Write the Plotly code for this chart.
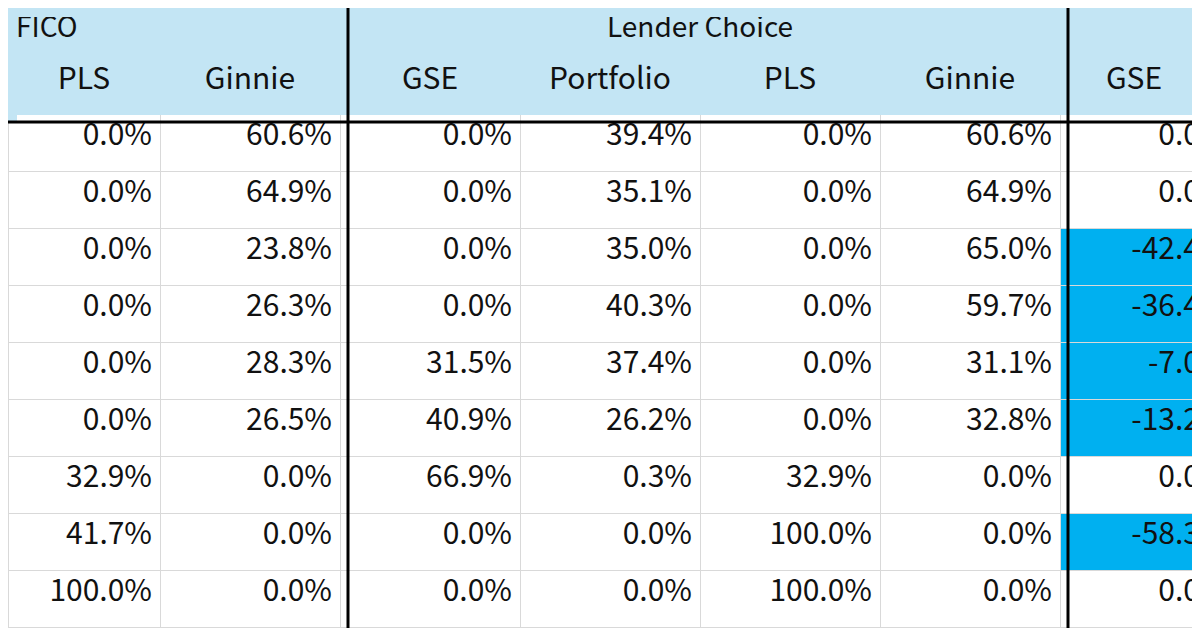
import plotly.graph_objects as go

groups = ["FICO", "Lender Choice", ""]
headers = ["PLS", "Ginnie", "GSE", "Portfolio", "PLS", "Ginnie", "GSE"]
fico_pls = [0.0, 0.0, 0.0, 0.0, 0.0, 0.0, 32.9, 41.7, 100.0]
fico_ginnie = [60.6, 64.9, 23.8, 26.3, 28.3, 26.5, 0.0, 0.0, 0.0]
lc_gse = [0.0, 0.0, 0.0, 0.0, 31.5, 40.9, 66.9, 0.0, 0.0]
lc_portfolio = [39.4, 35.1, 35.0, 40.3, 37.4, 26.2, 0.3, 0.0, 0.0]
lc_pls = [0.0, 0.0, 0.0, 0.0, 0.0, 0.0, 32.9, 100.0, 100.0]
lc_ginnie = [60.6, 64.9, 65.0, 59.7, 31.1, 32.8, 0.0, 0.0, 0.0]
diff_gse = [0.0, 0.0, -42.4, -36.4, -7.0, -13.2, 0.0, -58.3, 0.0]

FONT = "Noto Sans CJK KR"
HDR = "#c3e5f4"
HI = "#00b0f0"
W = 1200
H = 628
pct = lambda v: [f"{x:.1f}%" for x in v]
cols = [pct(fico_pls), pct(fico_ginnie), pct(lc_gse), pct(lc_portfolio),
        pct(lc_pls), pct(lc_ginnie), [f"{x:.1f}" for x in diff_gse]]
last_fill = [HI if x < 0 else "white" for x in diff_gse]
fills = [["white"] * 9] * 6 + [last_fill]
widths = [152, 180, 180, 180, 180, 180, 148]

fig = go.Figure()
fig.add_trace(go.Table(
    domain=dict(x=[0, 1], y=[1 - 58 / H, 1]),
    columnwidth=[332, 720, 148],
    header=dict(values=groups, fill_color=HDR, line_color=HDR, height=50,
                align=["left", "center", "center"],
                font=dict(family=FONT, size=28, color="#111")),
    cells=dict(values=[[], [], []])))
fig.add_trace(go.Table(
    domain=dict(x=[0, 1], y=[0, 1 - 50 / H]),
    columnwidth=widths,
    header=dict(values=headers, fill_color=HDR, line_color=HDR, height=56,
                align="center", font=dict(family=FONT, size=30, color="#111")),
    cells=dict(values=cols, fill_color=fills, line_color="#d9d9d9", height=57,
               align="right", font=dict(family=FONT, size=30, color="#111"))))

fig.add_shape(type="rect", xref="paper", yref="paper", x0=0, x1=1,
              y0=1 - 9 / H, y1=1, fillcolor=HDR, line_width=0)
fig.add_shape(type="rect", xref="paper", yref="paper", x0=0, x1=9 / W,
              y0=1 - 114 / H, y1=1, fillcolor=HDR, line_width=0)
for xp in [340, 1060]:
    fig.add_shape(type="line", xref="paper", yref="paper", x0=xp / W, x1=xp / W,
                  y0=0, y1=1, line=dict(color="black", width=3))
fig.add_shape(type="line", xref="paper", yref="paper", x0=0, x1=1,
              y0=1 - 114 / H, y1=1 - 114 / H, line=dict(color="black", width=3))
fig.add_shape(type="line", xref="paper", yref="paper", x0=0, x1=1,
              y0=0.003, y1=0.003, line=dict(color="black", width=3))

fig.update_layout(width=W, height=H, margin=dict(l=0, r=0, t=0, b=0),
                  paper_bgcolor="white")
fig.write_html("out.html")
